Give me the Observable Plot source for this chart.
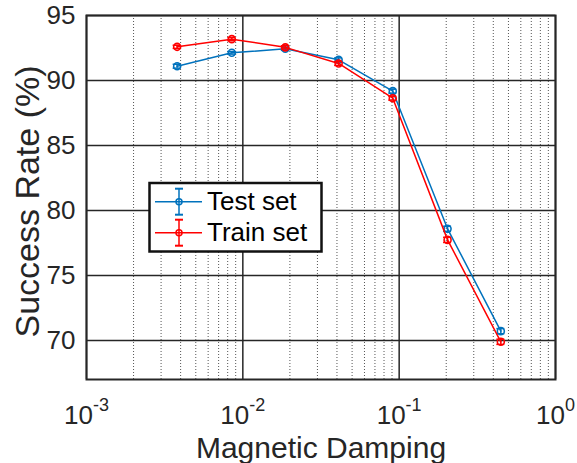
<!DOCTYPE html>
<html>
<head>
<meta charset="utf-8">
<script src="https://cdn.jsdelivr.net/npm/d3@7"></script>
<script src="https://cdn.jsdelivr.net/npm/@observablehq/plot@0.6"></script>
<style>
  body { margin: 0; background: #fff; }
  #wrap { position: relative; width: 577px; height: 463px; overflow: hidden; }
  #legend { position: absolute; left: 0; top: 0; }
</style>
</head>
<body>
<div id="wrap"></div>
<script>
// ---- data ----
const xDamping  = [0.0038, 0.0085, 0.0187, 0.041, 0.091, 0.204, 0.447];
const testRate  = [91.10, 92.13, 92.44, 91.59, 89.18, 78.59, 70.72];
const testErr   = [0.15, 0.10, 0.12, 0.15, 0.15, 0.20, 0.20];
const trainRate = [92.59, 93.18, 92.55, 91.31, 88.64, 77.74, 69.90];
const trainErr  = [0.12, 0.12, 0.12, 0.15, 0.15, 0.20, 0.20];
const seriesNames = ["Test set", "Train set"];
const seriesColors = ["#0072BD", "#FF0000"];
const yTicks = [70, 75, 80, 85, 90, 95];
const xDecades = [0.001, 0.01, 0.1, 1];
const xExponents = ["-3", "-2", "-1", "0"];
const minorMult = [2, 3, 4, 5, 6, 7, 8, 9];
const xLabel = "Magnetic Damping";
const yLabel = "Success Rate (%)";

const xMinor = xDecades.slice(0, -1).flatMap(d => minorMult.map(m => d * m));
const test = xDamping.map((x, i) => ({x, y: testRate[i], e: testErr[i]}));
const train = xDamping.map((x, i) => ({x, y: trainRate[i], e: trainErr[i]}));

const font = "'Liberation Sans', Arial, Helvetica, sans-serif";
const ink = "#262626";

function seriesMarks(rows, color) {
  return [
    Plot.line(rows, {x: "x", y: "y", stroke: color, strokeWidth: 1.5}),
    Plot.ruleX(rows, {x: "x", y1: d => d.y - d.e, y2: d => d.y + d.e, stroke: color, strokeWidth: 1.5}),
    Plot.ruleY(rows, {y: d => d.y + d.e, x1: "x", x2: "x", insetLeft: -4, insetRight: -4, stroke: color, strokeWidth: 1.5}),
    Plot.ruleY(rows, {y: d => d.y - d.e, x1: "x", x2: "x", insetLeft: -4, insetRight: -4, stroke: color, strokeWidth: 1.5}),
    Plot.dot(rows, {x: "x", y: "y", r: 3.5, stroke: color, strokeWidth: 1.6, fill: "none"})
  ];
}

const svg = Plot.plot({
  width: 577,
  height: 463,
  marginLeft: 86,
  marginRight: 22,
  marginTop: 15,
  marginBottom: 84,
  style: {fontFamily: font, background: "#fff", color: ink, overflow: "visible"},
  x: {type: "log", domain: [0.001, 1], axis: null},
  y: {domain: [67, 95], axis: null},
  marks: [
    Plot.ruleX(xMinor, {x: d => d, stroke: "#555", strokeWidth: 1, strokeDasharray: "1,2"}),
    Plot.ruleX(xDecades, {x: d => d, stroke: ink, strokeWidth: 1.5}),
    Plot.ruleY(yTicks, {y: d => d, stroke: ink, strokeWidth: 1.5}),
    Plot.frame({stroke: ink, strokeWidth: 2}),
    Plot.axisY({ticks: yTicks, tickSize: 0, tickPadding: 11, fontSize: 26, label: null, fill: ink}),
    Plot.text(xDecades, {x: d => d, frameAnchor: "bottom", text: () => "10", textAnchor: "middle",
      lineAnchor: "bottom", dy: 44, fontSize: 26, fill: ink}),
    Plot.text([xLabel], {frameAnchor: "bottom", textAnchor: "middle", lineAnchor: "bottom", dy: 78, fontSize: 30, fill: ink}),
    Plot.text([yLabel], {frameAnchor: "left", textAnchor: "middle", rotate: -90, lineAnchor: "bottom", dx: -48, dy: 4, fontSize: 34, fill: ink}),
    ...seriesMarks(test, seriesColors[0]),
    ...seriesMarks(train, seriesColors[1])
  ]
});

// superscript exponents on x tick labels (the "10" texts, in decade order)
const tickTexts = Array.from(svg.querySelectorAll("text")).filter(t => t.textContent === "10");
tickTexts.forEach((t, i) => {
  d3.select(t).append("tspan").attr("dy", -13).attr("font-size", 18).text(xExponents[i]);
});

const wrap = document.getElementById("wrap");
wrap.appendChild(svg);

// legend box inside the axes
const L = d3.select(wrap).append("svg").attr("id", "legend")
  .attr("width", 577).attr("height", 463)
  .style("font-family", font);
L.append("rect").attr("x", 149.5).attr("y", 183).attr("width", 172).attr("height", 68.5)
  .attr("fill", "#fff").attr("stroke", "#111").attr("stroke-width", 2.5);
seriesNames.forEach((name, i) => {
  const cy = 201.7 + i * 31;
  const c = seriesColors[i];
  const g = L.append("g").attr("stroke", c).attr("stroke-width", 1.5).attr("fill", "none");
  g.append("line").attr("x1", 155).attr("x2", 202).attr("y1", cy).attr("y2", cy);
  g.append("line").attr("x1", 179).attr("x2", 179).attr("y1", cy - 13).attr("y2", cy + 13);
  g.append("line").attr("x1", 175).attr("x2", 183).attr("y1", cy - 13).attr("y2", cy - 13).attr("stroke-width", 2);
  g.append("line").attr("x1", 175).attr("x2", 183).attr("y1", cy + 13).attr("y2", cy + 13).attr("stroke-width", 2);
  g.append("circle").attr("cx", 179).attr("cy", cy).attr("r", 3);
  L.append("text").attr("x", 207).attr("y", cy + 8.5).attr("font-size", 26).attr("fill", "#000").text(name);
});
</script>
</body>
</html>
